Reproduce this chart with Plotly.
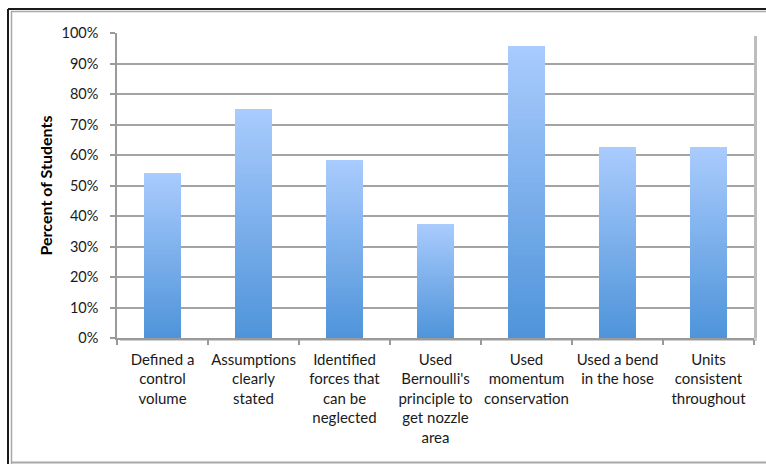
import plotly.graph_objects as go

categories = [
    "Defined a<br>control<br>volume",
    "Assumptions<br>clearly<br>stated",
    "Identified<br>forces that<br>can be<br>neglected",
    "Used<br>Bernoulli's<br>principle to<br>get nozzle<br>area",
    "Used<br>momentum<br>conservation",
    "Used a bend<br>in the hose",
    "Units<br>consistent<br>throughout",
]
percent_students = [54.2, 75.0, 58.3, 37.5, 95.8, 62.5, 62.5]
y_ticks = list(range(0, 101, 10))
y_tick_labels = [f"{v}%" for v in y_ticks]

# Vertical gradient inside each bar: stack equal slices of the bar value,
# shading from the dark base colour to the light top colour.
N_SLICES = 60
base_rgb = (79, 148, 218)
top_rgb = (169, 203, 253)

FONT = "Lato"

fig = go.Figure()
for i in range(N_SLICES):
    t = i / (N_SLICES - 1)
    rgb = tuple(round(b + (c - b) * t) for b, c in zip(base_rgb, top_rgb))
    fig.add_trace(go.Bar(
        x=categories,
        y=[v / N_SLICES for v in percent_students],
        marker=dict(color="rgb(%d,%d,%d)" % rgb, line=dict(width=0)),
        showlegend=False,
        hoverinfo="skip",
    ))

W, H = 766, 464
L, R, T, B = 117, 12, 33, 126
pw, ph = W - L - R, H - T - B


def px_x(x):
    return (x - L) / pw


def px_y(y):
    return (H - B - y) / ph


shapes = [
    # soft drop shadow of the plot area (right and bottom edges)
    dict(type="rect", xref="paper", yref="paper", layer="below",
         x0=1, x1=px_x(L + pw + 3), y0=px_y(T + 3), y1=px_y(H - B + 3),
         fillcolor="#bdbdbd", line=dict(width=0)),
    dict(type="rect", xref="paper", yref="paper", layer="below",
         x0=px_x(L + 3), x1=px_x(L + pw + 3), y0=0, y1=px_y(H - B + 3),
         fillcolor="#cfcfcf", line=dict(width=0)),
    # outer frame: dark outer line with lighter inner line
    dict(type="line", xref="paper", yref="paper",
         x0=px_x(8), x1=px_x(W + 2), y0=px_y(9), y1=px_y(9),
         line=dict(color="#1a1a1a", width=2)),
    dict(type="line", xref="paper", yref="paper",
         x0=px_x(8), x1=px_x(8), y0=px_y(9), y1=px_y(H + 2),
         line=dict(color="#1a1a1a", width=2)),
    dict(type="line", xref="paper", yref="paper",
         x0=px_x(11), x1=px_x(W + 2), y0=px_y(11.5), y1=px_y(11.5),
         line=dict(color="#a8a8a8", width=1.5)),
    dict(type="line", xref="paper", yref="paper",
         x0=px_x(11.5), x1=px_x(11.5), y0=px_y(11), y1=px_y(H + 2),
         line=dict(color="#a8a8a8", width=1.5)),
    dict(type="line", xref="paper", yref="paper",
         x0=px_x(11), x1=px_x(W + 2), y0=px_y(462.5), y1=px_y(462.5),
         line=dict(color="#a8a8a8", width=2)),
]

fig.update_layout(
    width=W, height=H,
    margin=dict(l=L, r=R, t=T, b=B, pad=0),
    barmode="stack",
    bargap=0.59,
    paper_bgcolor="white",
    plot_bgcolor="rgba(0,0,0,0)",
    font=dict(family=FONT, size=15, color="#1a1a1a"),
    shapes=shapes,
    xaxis=dict(
        showline=True, linecolor="#9a9a9a", linewidth=1.5,
        ticks="outside", tickson="boundaries", ticklen=5,
        tickcolor="#9a9a9a", tickwidth=1.5,
        showgrid=False, tickangle=0,
        tickfont=dict(family=FONT, size=15, color="#1a1a1a"),
        ticklabelstandoff=7,
    ),
    yaxis=dict(
        range=[0, 100], tickvals=y_ticks, ticktext=y_tick_labels,
        showline=True, linecolor="#9a9a9a", linewidth=1.5,
        ticks="outside", ticklen=5, tickcolor="#9a9a9a", tickwidth=1.5,
        showgrid=True, gridcolor="#a3a3a3", gridwidth=1.5,
        zeroline=False,
        tickfont=dict(family=FONT, size=14.5, color="#1a1a1a"),
        ticklabelstandoff=9,
        title=dict(text="<b>Percent of Students</b>",
                   font=dict(family=FONT, size=16, color="#000000"),
                   standoff=5),
    ),
)

fig.write_html("out.html")
